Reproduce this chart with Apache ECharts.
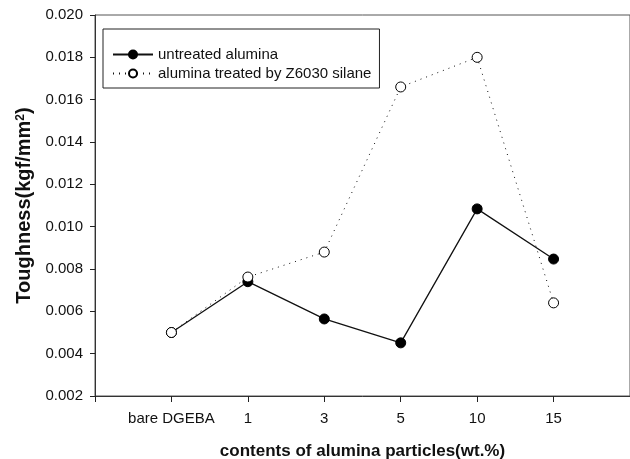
<!DOCTYPE html>
<html><head><meta charset="utf-8">
<script src="https://cdn.jsdelivr.net/npm/echarts@6/dist/echarts.min.js"></script>
<style>html,body{margin:0;padding:0;background:#fff}#c{width:630px;height:459px}</style>
</head><body><div id="c"></div>
<script>
var categories = ['bare DGEBA', '1', '3', '5', '10', '15'];
var untreated = [0.0050, 0.0074, 0.00564, 0.00451, 0.01084, 0.00847];
var treated = [0.0050, 0.00762, 0.0088, 0.0166, 0.0180, 0.0064];
var yTicks = [0.002, 0.020, 0.002]; // min, max, interval

var chart = echarts.init(document.getElementById('c'), null, {renderer: 'canvas'});
function pts(arr){ return arr.map(function(v,i){ return [i, v]; }); }
var font = '"Liberation Sans", Arial, sans-serif';
chart.setOption({
  animation: false,
  backgroundColor: '#fff',
  grid: {left: 95, right: 0, top: 15, bottom: 63, containLabel: false, outerBoundsMode: 'none',
    show: true, borderColor: '#555', borderWidth: 1, backgroundColor: 'transparent'},
  legend: {
    left: 103, top: 29, orient: 'vertical', itemGap: 4, itemWidth: 40, itemHeight: 10,
    padding: [18, 8, 7, 9],
    borderColor: '#222', borderWidth: 1, backgroundColor: '#fff',
    textStyle: {fontFamily: font, fontSize: 15, color: '#111'},
    data: ['untreated alumina', 'alumina treated by Z6030 silane']
  },
  xAxis: {
    type: 'value', min: -1, max: 6, interval: 1,
    name: 'contents of alumina particles(wt.%)', nameLocation: 'middle', nameGap: 47,
    nameTextStyle: {fontFamily: font, fontSize: 17, fontWeight: 'bold', color: '#111'},
    axisLine: {show: true, onZero: false, lineStyle: {color: '#333', width: 1}},
    axisTick: {show: true, inside: false, length: 6, lineStyle: {color: '#222'}},
    splitLine: {show: false},
    axisLabel: {fontFamily: font, fontSize: 15, color: '#111', margin: 15,
      formatter: function(v){ var i = Math.round(v); return (i >= 0 && i < categories.length) ? categories[i] : ''; }}
  },
  yAxis: {
    type: 'value', min: yTicks[0], max: yTicks[1], interval: yTicks[2],
    name: 'Toughness(kgf/mm{sup|2})', nameLocation: 'middle', nameGap: 53,
    nameTextStyle: {fontFamily: font, fontSize: 20, fontWeight: 'bold', color: '#111',
      rich: {sup: {fontFamily: font, fontSize: 12, fontWeight: 'bold', color: '#111', verticalAlign: 'top', padding: [0, 0, 8, 0]}}},
    axisLine: {show: true, onZero: false, lineStyle: {color: '#333', width: 1}},
    axisTick: {show: true, inside: false, length: 5, lineStyle: {color: '#222'}},
    splitLine: {show: false},
    axisLabel: {fontFamily: font, fontSize: 15, color: '#111', margin: 12,
      formatter: function(v){ return v.toFixed(3); }}
  },
  series: [
    {name: 'untreated alumina', type: 'line', data: pts(untreated), z: 2,
     symbol: 'circle', symbolSize: 10,
     itemStyle: {color: '#000', borderColor: '#000', borderWidth: 1},
     lineStyle: {color: '#111', width: 1.3}},
    {name: 'alumina treated by Z6030 silane', type: 'line', data: pts(treated), z: 3,
     symbol: 'circle', symbolSize: 10,
     itemStyle: {color: '#fff', borderColor: '#000', borderWidth: 1},
     lineStyle: {color: '#111', width: 1, type: [1, 5]}}
  ]
});
</script></body></html>
